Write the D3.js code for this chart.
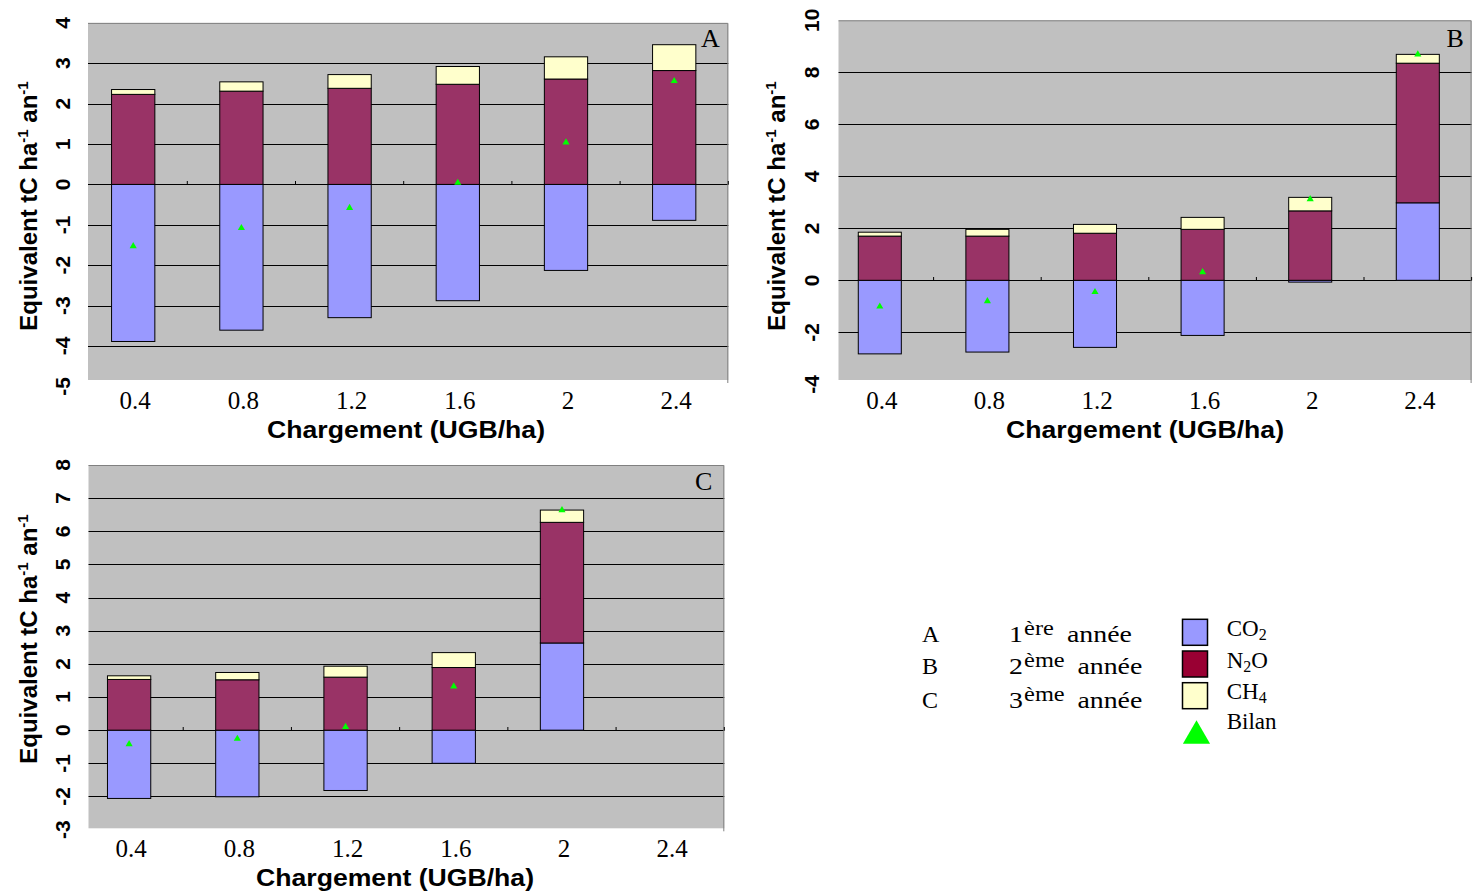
<!DOCTYPE html>
<html lang="fr">
<head>
<meta charset="utf-8">
<title>Bilan GES</title>
<script src="https://d3js.org/d3.v7.min.js"></script>
<style>
  body { margin: 0; background: #fff; }
  .sans { font-family: Arial, "Liberation Sans", sans-serif; font-weight: bold; }
  .serif { font-family: "Times New Roman", "Liberation Serif", serif; }
</style>
</head>
<body>
<div id="chart"></div>
<script>
// chargement (UGB/ha)
var charges = ["0.4", "0.8", "1.2", "1.6", "2", "2.4"];

// A : 1ere annee
var co2A = [-3.89, -3.61, -3.30, -2.88, -2.13, -0.89];
var n2oA = [2.23, 2.31, 2.38, 2.48, 2.61, 2.82];
var ch4A = [0.12, 0.23, 0.34, 0.44, 0.55, 0.64];
var bilanA = [-1.53, -1.08, -0.58, 0.04, 1.04, 2.56];

// B : 2eme annee
var co2B = [-2.83, -2.76, -2.58, -2.12, -0.07, 2.98];
var n2oB = [1.70, 1.70, 1.81, 1.96, 2.67, 5.37];
var ch4B = [0.15, 0.26, 0.34, 0.46, 0.52, 0.34];
var bilanB = [-1.01, -0.80, -0.45, 0.31, 3.12, 8.69];

// C : 3eme annee (pas de donnee pour 2.4)
var co2C = [-2.06, -2.01, -1.82, -1.00, 2.63];
var n2oC = [1.53, 1.52, 1.60, 1.89, 3.64];
var ch4C = [0.11, 0.22, 0.33, 0.45, 0.37];
var bilanC = [-0.42, -0.26, 0.10, 1.32, 6.64];

var ticksA = [-5, -4, -3, -2, -1, 0, 1, 2, 3, 4];
var ticksB = [-4, -2, 0, 2, 4, 6, 8, 10];
var ticksC = [-3, -2, -1, 0, 1, 2, 3, 4, 5, 6, 7, 8];

var colors = { co2: "#9999ff", n2o: "#993366", ch4: "#ffffcc" };
var keys = ["co2", "n2o", "ch4"];

var svg = d3.select("#chart").append("svg")
  .attr("width", 1479)
  .attr("height", 893);

var panels = [
  { letter: "A", co2: co2A, n2o: n2oA, ch4: ch4A, bilan: bilanA, ticks: ticksA,
    yRange: [386.3, 22.9], xRange: [79.1, 728.3], bgLeft: 88, bgBottom: 380,
    tickX: 62, titleX: 36.7, titleY: 206, xLabelY: 409, xTitleX: 406, xTitleY: 438,
    letterX: 701, letterY: 47 },
  { letter: "B", co2: co2B, n2o: n2oB, ch4: ch4B, bilan: bilanB, ticks: ticksB,
    yRange: [384.3, 20.3], xRange: [826, 1471.6], bgLeft: 838.5, bgBottom: 380,
    tickX: 811.5, titleX: 785, titleY: 206, xLabelY: 408.5, xTitleX: 1145, xTitleY: 438,
    letterX: 1446.5, letterY: 46.7 },
  { letter: "C", co2: co2C, n2o: n2oC, ch4: ch4C, bilan: bilanC, ticks: ticksC,
    yRange: [829.6, 465], xRange: [75, 724.3], bgLeft: 88.5, bgBottom: 828.3,
    tickX: 62, titleX: 36.7, titleY: 639, xLabelY: 857, xTitleX: 395, xTitleY: 886,
    letterX: 695, letterY: 490 }
];

panels.forEach(drawPanel);

function drawPanel(p) {
  var x = d3.scaleBand().domain(charges).range(p.xRange)
    .paddingInner(0.6).paddingOuter(0.3);
  var y = d3.scaleLinear().domain(d3.extent(p.ticks)).range(p.yRange);
  var g = svg.append("g");
  var top = y(d3.max(p.ticks));
  var right = p.xRange[1];

  // gray plot area
  g.append("rect")
    .attr("x", p.bgLeft).attr("y", top)
    .attr("width", right - p.bgLeft).attr("height", p.bgBottom - top)
    .attr("fill", "#c0c0c0");

  // gridlines
  g.selectAll(".grid")
    .data(p.ticks.filter(function (t) { return y(t) > top + 1 && y(t) < p.bgBottom - 1; }))
    .enter().append("line")
    .attr("x1", p.bgLeft).attr("x2", right)
    .attr("y1", function (t) { return Math.round(y(t)) + 0.5; })
    .attr("y2", function (t) { return Math.round(y(t)) + 0.5; })
    .attr("stroke", "#000").attr("stroke-width", 1);

  // border top / right
  g.append("path")
    .attr("d", "M" + p.bgLeft + "," + (top + 0.5) + "H" + (right - 0.5) + "V" + (p.bgBottom + 3))
    .attr("fill", "none").attr("stroke", "#808080").attr("stroke-width", 1);

  // small ticks on the zero line, between categories
  g.selectAll(".xt")
    .data(charges)
    .enter().append("line")
    .attr("x1", function (c) { return x(c) + x.bandwidth() / 2 + x.step() / 2; })
    .attr("x2", function (c) { return x(c) + x.bandwidth() / 2 + x.step() / 2; })
    .attr("y1", Math.round(y(0)) + 0.5)
    .attr("y2", Math.round(y(0)) - 3)
    .attr("stroke", "#000");

  // stacked bars
  var rows = p.co2.map(function (v, i) {
    return { cat: charges[i], co2: v, n2o: p.n2o[i], ch4: p.ch4[i] };
  });
  var series = d3.stack().keys(keys).offset(d3.stackOffsetDiverging)(rows);

  series.forEach(function (s) {
    g.selectAll(".bar-" + s.key)
      .data(s)
      .enter().append("rect")
      .attr("x", function (d) { return x(d.data.cat); })
      .attr("y", function (d) { return y(Math.max(d[0], d[1])); })
      .attr("width", x.bandwidth())
      .attr("height", function (d) { return Math.abs(y(d[0]) - y(d[1])); })
      .attr("fill", colors[s.key])
      .attr("stroke", "#000")
      .attr("stroke-width", 1);
  });

  // bilan
  g.selectAll(".bilan")
    .data(p.bilan)
    .enter().append("path")
    .attr("d", d3.symbol().type(d3.symbolTriangle).size(22))
    .attr("transform", function (d, i) {
      return "translate(" + (x(charges[i]) + x.bandwidth() / 2) + "," + y(d) + ")";
    })
    .attr("fill", "#00ff00");

  // y tick labels (rotated)
  g.selectAll(".yl")
    .data(p.ticks)
    .enter().append("text")
    .attr("class", "sans")
    .attr("transform", function (t) { return "translate(" + p.tickX + "," + y(t) + ") rotate(-90)"; })
    .attr("text-anchor", "middle")
    .attr("dy", "0.36em")
    .style("font-size", "21px")
    .text(function (t) { return t; });

  // y title
  var yt = g.append("text")
    .attr("class", "sans")
    .attr("transform", "translate(" + p.titleX + "," + p.titleY + ") rotate(-90)")
    .attr("text-anchor", "middle")
    .style("font-size", "24px");
  yt.append("tspan").text("Equivalent tC ha");
  yt.append("tspan").attr("dy", "-9").style("font-size", "15px").text("-1");
  yt.append("tspan").attr("dy", "9").text(" an");
  yt.append("tspan").attr("dy", "-9").style("font-size", "15px").text("-1");

  // x tick labels
  g.selectAll(".xl")
    .data(charges)
    .enter().append("text")
    .attr("class", "serif")
    .attr("x", function (c) { return x(c) + x.bandwidth() / 2 + 2; })
    .attr("y", p.xLabelY)
    .attr("text-anchor", "middle")
    .style("font-size", "25px")
    .text(function (c) { return c; });

  // x title
  g.append("text")
    .attr("class", "sans")
    .attr("x", p.xTitleX).attr("y", p.xTitleY)
    .attr("text-anchor", "middle")
    .attr("textLength", 278)
    .attr("lengthAdjust", "spacingAndGlyphs")
    .style("font-size", "23px")
    .text("Chargement (UGB/ha)");

  // panel letter
  g.append("text")
    .attr("class", "serif")
    .attr("x", p.letterX).attr("y", p.letterY)
    .style("font-size", "26px")
    .text(p.letter);
}

// legend
var years = [
  { l: "A", n: "1", s: "ère", y: 641.7, ax: 50 },
  { l: "B", n: "2", s: "ème", y: 674, ax: 59 },
  { l: "C", n: "3", s: "ème", y: 708.3, ax: 59 }
];
var lg = svg.append("g");
years.forEach(function (d) {
  lg.append("text").attr("class", "serif")
    .attr("x", 922).attr("y", d.y)
    .style("font-size", "24px").text(d.l);
  var t = lg.append("text").attr("class", "serif")
    .attr("transform", "translate(1009," + d.y + ") scale(1.16,1)")
    .style("font-size", "24px");
  t.append("tspan").attr("x", 0).text(d.n);
  t.append("tspan").attr("x", 13).attr("dy", -7).style("font-size", "21px").text(d.s);
  t.append("tspan").attr("x", d.ax).attr("dy", 7).text("année");
});

var gases = [
  { key: "co2", fill: "#9999ff", main: "CO", sub: "2", tail: "", y: 619.3 },
  { key: "n2o", fill: "#990033", main: "N", sub: "2", tail: "O", y: 651 },
  { key: "ch4", fill: "#ffffcc", main: "CH", sub: "4", tail: "", y: 682.7 }
];
gases.forEach(function (d) {
  lg.append("rect")
    .attr("x", 1182.5).attr("y", d.y)
    .attr("width", 25).attr("height", 26)
    .attr("fill", d.fill).attr("stroke", "#000").attr("stroke-width", 1.5);
  var t = lg.append("text").attr("class", "serif")
    .attr("x", 1226.7).attr("y", d.y + 16.5)
    .style("font-size", "23px");
  t.append("tspan").text(d.main);
  t.append("tspan").attr("dy", 4).style("font-size", "16px").text(d.sub);
  if (d.tail) t.append("tspan").attr("dy", -4).text(d.tail);
});
lg.append("path")
  .attr("d", d3.symbol().type(d3.symbolTriangle).size(320))
  .attr("transform", "translate(1196.5,736)")
  .attr("fill", "#00ff00");
lg.append("text").attr("class", "serif")
  .attr("x", 1226.7).attr("y", 729.3)
  .style("font-size", "23px").text("Bilan");
</script>
</body>
</html>
